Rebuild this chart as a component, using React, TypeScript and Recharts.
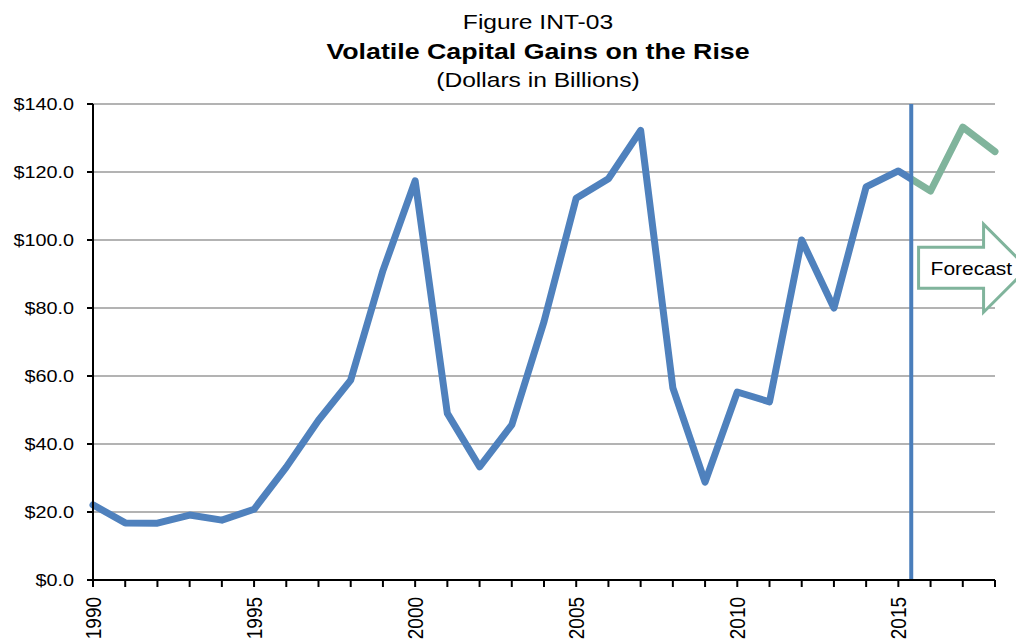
import React from "react";
import {
  LineChart,
  Line,
  XAxis,
  YAxis,
  CartesianGrid,
  ReferenceLine,
  ReferenceDot,
} from "recharts";

// capital gains, billions of dollars (1990-2015 actual, 2016-2018 forecast)
const years = [
  1990, 1991, 1992, 1993, 1994, 1995, 1996, 1997, 1998, 1999, 2000, 2001,
  2002, 2003, 2004, 2005, 2006, 2007, 2008, 2009, 2010, 2011, 2012, 2013,
  2014, 2015, 2016, 2017, 2018,
];
const gains = [
  22.1, 16.8, 16.7, 19.1, 17.6, 20.8, 33.2, 47.0, 58.8, 91.0, 117.4, 49.0,
  33.3, 45.6, 76.0, 112.3, 118.0, 132.2, 56.5, 28.8, 55.3, 52.4, 100.0, 80.0,
  115.6, 120.3, 114.4, 133.2, 126.0,
];
const yTicks = [0, 20, 40, 60, 80, 100, 120, 140];
const forecastStart = 2015.4;

const data = years.map((year, i) => ({ year, gains: gains[i] }));

const BLUE = "#4F81BD";
const GREEN = "#80B49C";
const FONT = "'Liberation Sans', Arial, sans-serif";
// the source picture is a bit wider than tall, so text is stretched sideways
const STRETCH = 1.2;

// where the stroke switches from blue to green, as a fraction of the line's width
const split =
  (forecastStart - years[0]) / (years[years.length - 1] - years[0]);

const YearTick = (props: any) => {
  const { x, y, payload } = props;
  if (payload.value % 5 !== 0) return null;
  return (
    <g transform={`translate(${x} ${y + 8}) rotate(-90)`}>
      <text
        textAnchor="end"
        dy="0.36em"
        fontSize={19}
        fontFamily={FONT}
        fill="#000"
        transform={`scale(1 ${STRETCH * 0.95})`}
      >
        {payload.value}
      </text>
    </g>
  );
};

const DollarTick = (props: any) => {
  const { x, y, payload } = props;
  return (
    <g transform={`translate(${x} ${y}) scale(${STRETCH} 1)`}>
      <text
        textAnchor="end"
        dy="0.36em"
        fontSize={16.5}
        fontFamily={FONT}
        fill="#000"
      >
        {`$${payload.value.toFixed(1)}`}
      </text>
    </g>
  );
};

const ForecastArrow = (props: any) => {
  const { cx, cy } = props;
  const l = cx - 12;
  const body = 65;
  const path = [
    `M${l},${cy - 20}`,
    `L${l + body},${cy - 20}`,
    `L${l + body},${cy - 43}`,
    `L${l + body + 44},${cy + 1}`,
    `L${l + body},${cy + 45}`,
    `L${l + body},${cy + 21}`,
    `L${l},${cy + 21}`,
    "Z",
  ].join(" ");
  return (
    <g>
      <path d={path} fill="#fff" stroke={GREEN} strokeWidth={3} />
      <g transform={`translate(${l + 12} ${cy + 8}) scale(${STRETCH} 1)`}>
        <text fontSize={17.5} fontFamily={FONT} fill="#000">
          Forecast
        </text>
      </g>
    </g>
  );
};

export default function App() {
  return (
    <div
      style={{
        position: "absolute",
        left: 0,
        top: 0,
        width: 1016,
        height: 641,
        background: "#fff",
        overflow: "hidden",
      }}
    >
      <LineChart
        width={1016}
        height={641}
        data={data}
        margin={{ top: 104, right: 21, bottom: 0, left: 0 }}
        style={{ position: "absolute", left: 0, top: 0 }}
      >
        <defs>
          <linearGradient id="splitStroke" x1="0" y1="0" x2="1" y2="0">
            <stop offset={split} stopColor={BLUE} />
            <stop offset={split} stopColor={GREEN} />
          </linearGradient>
        </defs>
        <CartesianGrid
          vertical={false}
          stroke="#9a9a9a"
          strokeWidth={1.5}
        />
        <XAxis
          dataKey="year"
          type="number"
          domain={[1990, 2018]}
          ticks={years}
          interval={0}
          height={61}
          axisLine={{ stroke: "#000", strokeWidth: 2 }}
          tickLine={{ stroke: "#000", strokeWidth: 2 }}
          tickSize={7}
          tick={<YearTick />}
        />
        <YAxis
          domain={[0, 140]}
          ticks={yTicks}
          width={93}
          axisLine={{ stroke: "#000", strokeWidth: 2 }}
          tickLine={{ stroke: "#000", strokeWidth: 2 }}
          tickSize={6}
          tickMargin={13}
          tick={<DollarTick />}
        />
        <Line
          dataKey="gains"
          stroke="url(#splitStroke)"
          strokeWidth={7}
          strokeLinejoin="round"
          strokeLinecap="round"
          dot={false}
          activeDot={false}
          isAnimationActive={false}
        />
        <ReferenceLine x={forecastStart} stroke="#4A7EBB" strokeWidth={4} />
        <ReferenceDot
          x={2016}
          y={92}
          r={0}
          ifOverflow="visible"
          shape={<ForecastArrow />}
        />
      </LineChart>
      <svg
        width={1016}
        height={100}
        style={{ position: "absolute", left: 0, top: 0, pointerEvents: "none" }}
      >
        <g transform={`translate(538 0) scale(${STRETCH} 1)`}>
          <text y={29.5} textAnchor="middle" fontSize={20.5} fontFamily={FONT}>
            Figure INT-03
          </text>
          <text
            y={59.5}
            textAnchor="middle"
            fontSize={22.3}
            fontWeight="bold"
            fontFamily={FONT}
          >
            Volatile Capital Gains on the Rise
          </text>
          <text y={87.5} textAnchor="middle" fontSize={20.5} fontFamily={FONT}>
            (Dollars in Billions)
          </text>
        </g>
      </svg>
    </div>
  );
}
